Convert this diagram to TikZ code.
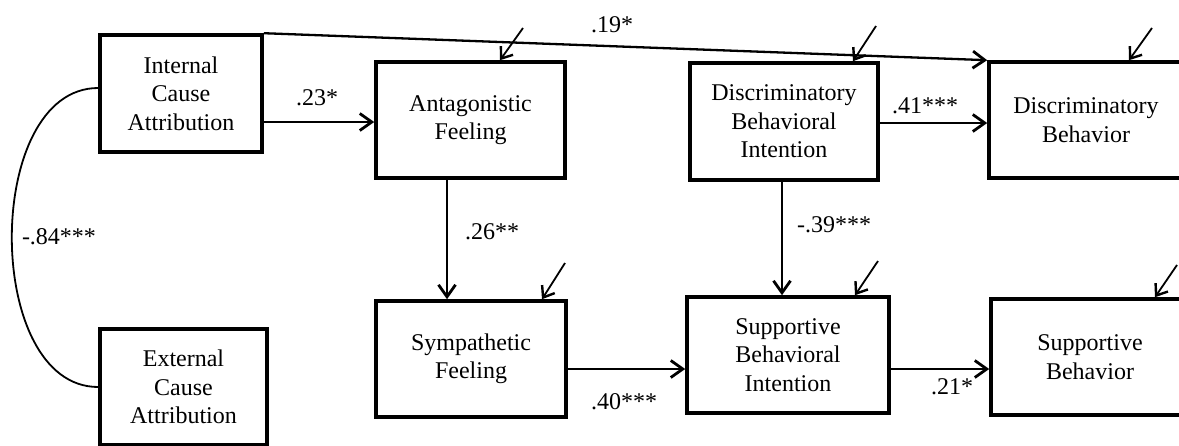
\documentclass[tikz,border=0pt]{standalone}
\usepackage{fontspec}
\setmainfont{Liberation Serif}
\usetikzlibrary{arrows.meta}
\begin{document}
\begin{tikzpicture}[x=1pt,y=-1pt,
  every node/.style={font=\fontsize{24}{28.5}\selectfont},
  var/.style={draw, line width=3.6pt, rectangle, align=center, inner sep=0pt,
    minimum height=116pt},
  path/.style={line width=2.3pt, -{Straight Barb[length=12pt,width=17pt,line width=2.8pt]}},
  errarr/.style={line width=1.8pt, -{Straight Barb[length=10pt,width=15pt,line width=2.4pt]}},
  coef/.style={inner sep=0pt},
]
\clip (0,0) rectangle (1179,445);
\fill[white] (0,0) rectangle (1179,445);

% variables
\node[var, minimum width=162pt, minimum height=117pt] (int) at (181,93.5) {Internal\\Cause\\Attribution};
\node[var, minimum width=167pt] (ext) at (183.5,387) {External\\Cause\\Attribution};
\node[var, minimum width=189pt] (ant) at (470.5,120) {Antagonistic\\Feeling};
\node[var, minimum width=190pt] (sym) at (471,359) {Sympathetic\\Feeling};
\node[var, minimum width=188pt, minimum height=117pt] (dbi) at (784,121.5) {Discriminatory\\Behavioral\\Intention};
\node[var, minimum width=202pt] (sbi) at (788,355) {Supportive\\Behavioral\\Intention};
\node[var, minimum width=194pt] (db) at (1086,120) {Discriminatory\\Behavior};
\node[var, minimum width=198pt] (sb) at (1090,357) {Supportive\\Behavior};

% structural paths
\draw[path] (int.east |- 0,122) -- (ant.west |- 0,122);
\draw[path] (int.north east) -- (db.north west);
\draw[path] (dbi.east |- 0,123) -- (db.west |- 0,123);
\draw[path] (ant.south -| 447,0) -- (sym.north -| 447,0);
\draw[path] (dbi.south -| 782,0) -- (sbi.north -| 782,0);
\draw[path] (sym.east |- 0,369) -- (sbi.west |- 0,369);
\draw[path] (sbi.east |- 0,369) -- (sb.west |- 0,369);

% correlation between the two attributions
\draw[line width=1.8pt] (int.west |- 0,88) .. controls (-17,88) and (-17,387) .. (ext.west |- 0,387);

% disturbance terms
\coordinate (e1) at (523,28);
\coordinate (e2) at (876,26);
\coordinate (e3) at (1152,28);
\coordinate (e4) at (565,263);
\coordinate (e5) at (878,261);
\coordinate (e6) at (1177,265);
\draw[errarr] (e1) -- (ant.north -| 500,0);
\draw[errarr] (e2) -- (dbi.north -| 853,0);
\draw[errarr] (e3) -- (db.north -| 1129,0);
\draw[errarr] (e4) -- (sym.north -| 542,0);
\draw[errarr] (e5) -- (sbi.north -| 855,0);
\draw[errarr] (e6) -- (sb.north -| 1155,0);

% coefficients
\node[coef] (c1) at (317,98) {.23*};
\node[coef] (c2) at (612,25) {.19*};
\node[coef] (c3) at (925,106) {.41***};
\node[coef] (c4) at (492,232) {.26**};
\node[coef] (c5) at (834,225) {-.39***};
\node[coef] (c6) at (624,402) {.40***};
\node[coef] (c7) at (952,387) {.21*};
\node[coef] (c8) at (59,237) {-.84***};
\end{tikzpicture}
\end{document}
